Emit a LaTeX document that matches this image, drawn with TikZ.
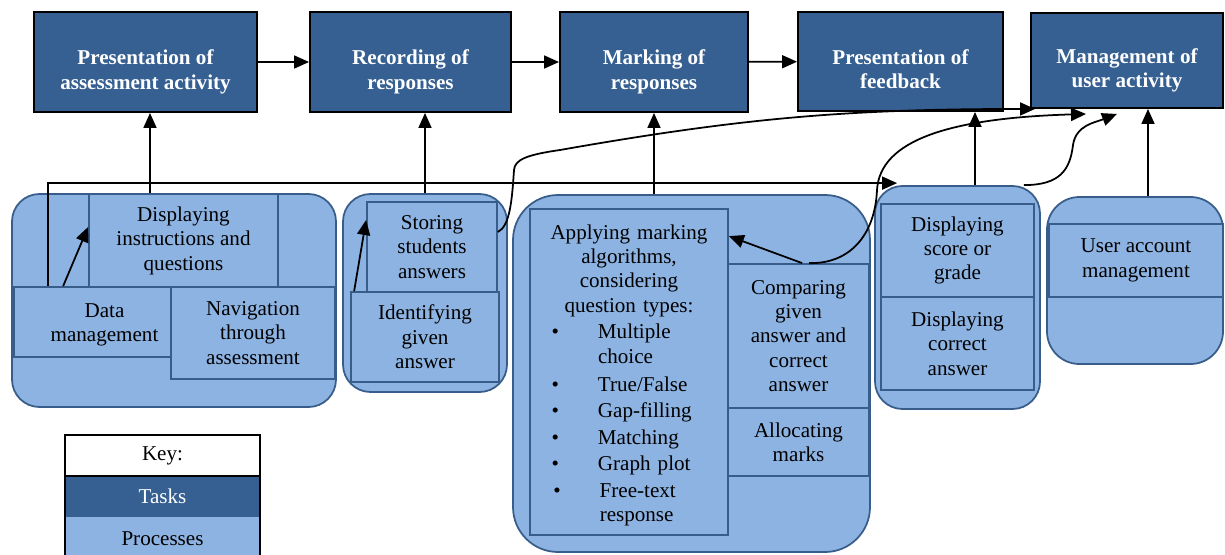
\documentclass[tikz,border=0pt]{standalone}
\usepackage{fontspec}
\setmainfont{Liberation Serif}
\usetikzlibrary{arrows.meta}
\definecolor{taskblue}{HTML}{366092}
\definecolor{procblue}{HTML}{8DB3E2}
\definecolor{procline}{HTML}{385D8A}
\newcommand{\qtype}[1]{\par\vspace{0.04cm}\hspace*{0.3cm}\makebox[0.93cm][l]{\textbullet}\parbox[t]{2.4cm}{\raggedright #1\strut}}

\begin{document}
\begin{tikzpicture}
[nodes={font=\fontsize{12}{13.9}\selectfont, align=center, inner sep=0pt},
 task/.style={draw=black, line width=1.1pt, fill=taskblue, text=white, text height=1.17cm, text depth=0.09cm,
   font=\fontsize{12}{13.9}\selectfont\bfseries},
 proc/.style={draw=procline, line width=1pt, fill=procblue},
 group/.style={proc, rounded corners=0.55cm},
 size/.style 2 args={minimum width=#1, minimum height=#2},
 >={Triangle[length=0.3cm,width=0.26cm]}, arr/.style={->, line width=1pt}]
\useasboundingbox (0,0) rectangle (24.5,-11.08);

% tasks
\node[task, size={4.46cm}{2cm}] (present) at (2.91,-1.24) {Presentation of\\assessment activity};
\node[task, size={4.02cm}{2cm}] (record) at (8.21,-1.24) {Recording of\\responses};
\node[task, size={3.76cm}{2cm}] (mark) at (13.08,-1.24) {Marking of\\responses};
\node[task, size={4.10cm}{1.98cm}] (feedback) at (18.01,-1.23) {Presentation of\\feedback};
\node[task, size={3.84cm}{1.90cm}] (manage) at (22.54,-1.21) {Management of\\user activity};

% process groups
\node[group, size={6.48cm}{4.26cm}] (grp1) at (3.48,-6.01) {};
\node[group, size={3.28cm}{3.96cm}] (grp2) at (8.50,-5.86) {};
\node[group, rounded corners=0.9cm, size={7.14cm}{7.14cm}] (grp3) at (13.83,-7.47) {};
\node[group, size={3.30cm}{4.46cm}] (grp4) at (19.15,-5.95) {};
\node[group, rounded corners=0.65cm, size={3.52cm}{3.34cm}] (grp5) at (22.70,-5.61) {};

% processes
\node[proc, size={3.78cm}{1.86cm}] (disp) at (3.67,-4.81) {Displaying\\instructions and\\questions};
\node[proc, size={3.14cm}{1.40cm}, label={[xshift=0.24cm, yshift=-0.06cm]center:Data\\management}] (data) at (1.85,-6.44) {};
\node[proc, size={3.28cm}{1.84cm}] (nav) at (5.06,-6.66) {Navigation\\through\\assessment};
\node[proc, size={2.60cm}{1.80cm}] (store) at (8.64,-4.94) {Storing\\students\\answers};
\node[proc, size={2.96cm}{1.80cm}] (ident) at (8.50,-6.74) {Identifying\\given\\answer};
\node[proc, size={3.96cm}{6.52cm}, text width=3.7cm] (apply) at (12.58,-7.44) {%
  \rule{0pt}{0.48cm}Applying marking\\ algorithms,\\ considering\\ question types:\par
  \raggedright
  \qtype{Multiple\\choice}
  \qtype{True/False}
  \qtype{Gap-filling}
  \qtype{Matching}
  \qtype{Graph plot}
  \qtype{Free-text\\response}};
\node[proc, size={2.82cm}{2.88cm}] (compare) at (15.97,-6.72) {Comparing\\given\\answer and\\correct\\answer};
\node[proc, size={2.82cm}{1.36cm}] (alloc) at (15.97,-8.84) {Allocating\\marks};
\node[proc, size={3.06cm}{1.86cm}] (score) at (19.15,-5.01) {Displaying\\score or\\grade};
\node[proc, size={3.06cm}{1.86cm}] (correct) at (19.15,-6.87) {Displaying\\correct\\answer};
\node[proc, size={3.48cm}{1.46cm}] (account) at (22.72,-5.21) {User account\\management};

% key
\node[fill=white, size={3.9cm}{0.82cm}] (keytitle) at (3.25,-9.11) {Key:};
\node[fill=taskblue, text=white, size={3.9cm}{0.82cm}] (keytask) at (3.25,-9.93) {Tasks};
\node[fill=procblue, size={3.9cm}{0.86cm}] (keyproc) at (3.25,-10.77) {Processes};
\draw[line width=1.1pt] (keytitle.north west) rectangle (keyproc.south east);
\draw[line width=1.1pt] (keytitle.south west) -- (keytitle.south east);

% task flow
\draw[arr] (present) -- (record);
\draw[arr] (record) -- (mark);
\draw[arr] (mark) -- (feedback);

% processes to tasks
\coordinate (dispout) at ([xshift=-0.67cm]disp.north);
\coordinate (fbin) at ([xshift=0.35cm]grp4.north);
\coordinate (accin) at ([xshift=0.26cm]grp5.north);
\draw[arr] (dispout) -- (dispout |- present.south);
\draw[arr] (grp2.north) -- (grp2.north |- record.south);
\draw[arr] (mark.south |- grp3.north) -- (mark.south);
\draw[arr] (fbin) -- (fbin |- feedback.south);
\draw[arr] (accin) -- (accin |- manage.south);

% links between processes
\draw[arr] ([xshift=1.0cm]data.north west) -- ([yshift=0.27cm]disp.west);
\draw[arr] ([xshift=0.7cm]data.north west) |- ([xshift=0.46cm,yshift=0.04cm]grp4.north west);
\draw[arr] ([xshift=0.08cm]ident.north west) -- ([yshift=0.54cm]store.west);
\draw[arr] ([xshift=1.5cm]compare.north west) -- ([yshift=-0.56cm]apply.north east);

% curves up to user activity
\draw[arr] ([yshift=0.3cm]store.east) .. controls (10.2,-4.52) and (10.24,-4.0) .. (10.28,-3.4)
  .. controls (10.3,-3.2) and (10.5,-3.1) .. (11.2,-3.0) to[out=10,in=180] ([xshift=0.1cm]manage.south west);
\draw[arr] ([xshift=1.64cm]compare.north west) .. controls (17.0,-5.28) and (17.5,-4.7) .. (17.54,-3.8)
  .. controls (17.6,-2.8) and (19.0,-2.36) .. ([xshift=1.12cm,yshift=-0.1cm]manage.south west);
\draw[arr] ([xshift=-0.34cm]grp4.north east) .. controls (21.2,-3.7) and (21.4,-3.4) .. (21.46,-2.9)
  .. controls (21.52,-2.5) and (21.9,-2.45) .. ([xshift=-0.2cm,yshift=-0.1cm]manage.south);
\end{tikzpicture}
\end{document}
